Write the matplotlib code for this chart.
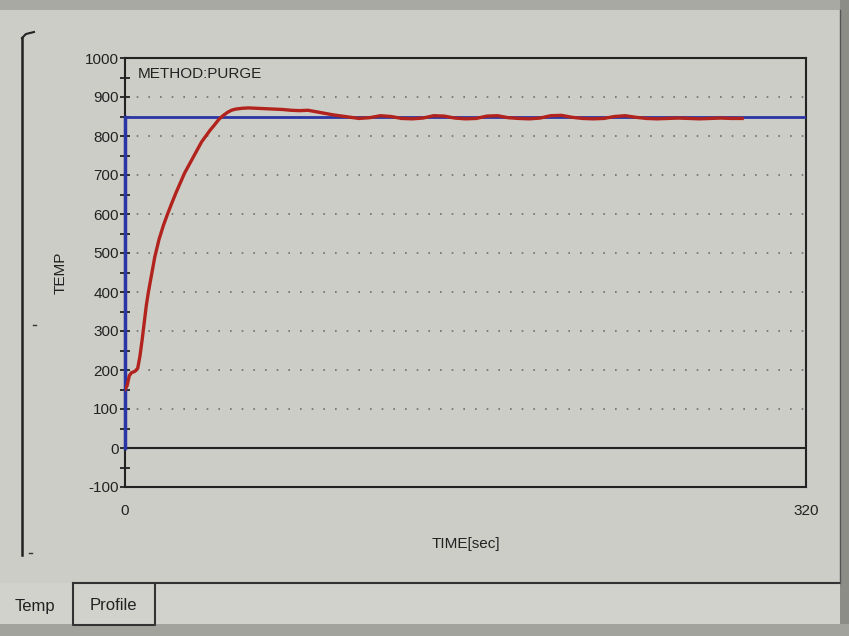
import matplotlib
matplotlib.use("Agg")
import matplotlib.pyplot as plt
from matplotlib.patches import Rectangle
from matplotlib.lines import Line2D

time_sec = [0, 1, 2, 3, 4, 5, 6, 7, 8, 9, 10, 11, 12, 13, 14, 16, 18, 20, 22,
            24, 26, 28, 30, 32, 34, 36, 38, 40, 42, 44, 46, 48, 50, 52, 55, 58,
            62, 66, 70, 74, 78, 82, 86, 90, 94, 98, 102, 106,
            110, 115, 120, 125, 130, 135, 140, 145, 150, 155, 160, 165, 170,
            175, 180, 185, 190, 195, 200, 205, 210, 215, 220, 225, 230, 235,
            240, 245, 250, 255, 260, 265, 270, 275, 280, 285, 290]
temp = [150, 160, 185, 193, 195, 198, 205, 235, 275, 320, 365, 400, 430, 460,
        490, 535, 570, 600, 628, 655, 680, 705, 725, 745, 765, 785, 800, 815,
        828, 842, 852, 860, 866, 869, 871, 872, 871, 870, 869, 868, 866, 865,
        866, 862, 858, 854, 851, 848,
        845, 847, 852, 850, 845, 844, 846, 852, 851, 846, 844, 845, 851, 852,
        847, 845, 844, 846, 852, 853, 848, 845, 844, 845, 850, 852, 848, 845,
        844, 845, 846, 845, 844, 845, 846, 845, 845]

setpoint = 850
x_range = [0, 320]
y_ticks = [-100, 0, 100, 200, 300, 400, 500, 600, 700, 800, 900, 1000]

W, H = 849, 636
bg = "#cdcdc8"
plt.rcParams["font.family"] = ["Liberation Sans", "DejaVu Sans"]
plt.rcParams["axes.unicode_minus"] = False
fig = plt.figure(figsize=(W / 100, H / 100), dpi=100, facecolor=bg)


def px(x0, y0, w, h):
    return [x0 / W, 1 - (y0 + h) / H, w / W, h / H]


# window chrome (photo of the instrument screen)
fig.patches.append(Rectangle((0, 1 - 10 / H), 1, 10 / H, transform=fig.transFigure,
                             facecolor="#a9a9a4", zorder=0))
fig.patches.append(Rectangle((840 / W, 0), 9 / W, 1, transform=fig.transFigure,
                             facecolor="#8d8d88", zorder=0))
fig.patches.append(Rectangle((0, 0), 1, 12 / H, transform=fig.transFigure,
                             facecolor="#a3a39e", zorder=0))
fig.patches.append(Rectangle((0, 12 / H), 840 / W, (636 - 583 - 12) / H,
                             transform=fig.transFigure, facecolor="#d2d2cd", zorder=0))


def fline(xs, ys, **kw):
    fig.add_artist(Line2D([x / W for x in xs], [1 - y / H for y in ys],
                          transform=fig.transFigure, **kw))


fline([22, 22], [38, 555], color="#222222", lw=1.8)
fline([22, 26, 34], [38, 34, 32], color="#222222", lw=1.5)
fline([33, 36], [325, 325], color="#333333", lw=1)
fline([29, 32], [553, 553], color="#333333", lw=1)
fline([73, 840], [583, 583], color="#333333", lw=1.5)
fline([73, 73, 155, 155], [583, 625, 625, 585], color="#333333", lw=1.5)
fline([840, 840], [10, 583], color="#555555", lw=1)
fig.text(35 / W, 1 - 606 / H, "Temp", ha="center", va="center", fontsize=12,
         color="#222222")
fig.text(113 / W, 1 - 605 / H, "Profile", ha="center", va="center", fontsize=12,
         color="#222222")

ax = fig.add_axes(px(125, 58, 681, 429))
ax.set_facecolor(bg)
ax.set_xlim(*x_range)
ax.set_ylim(-100, 1000)

for v in y_ticks[2:-1]:
    ax.axhline(v, color="#6e6e6e", lw=1.2, ls=(0, (1, 6)), zorder=1)
ax.axhline(0, color="#222222", lw=1.5, zorder=2)

ax.plot(x_range, [setpoint, setpoint], color="#2b36a6", lw=2, zorder=3)
ax.plot([0, 0], [0, setpoint], color="#2b36a6", lw=2.5, zorder=3, clip_on=False)
ax.plot(time_sec, temp, color="#b2231d", lw=2.4, zorder=4)

for s in ax.spines.values():
    s.set_color("#222222")
    s.set_linewidth(1.5)

ax.set_yticks(y_ticks)
ax.set_yticks(range(-50, 1000, 100), minor=True)
ax.tick_params(axis="y", which="both", direction="inout", length=7, width=1.3,
               color="#222222", labelsize=11, pad=1, labelcolor="#222222")
ax.set_xticks(x_range)
ax.set_xticklabels(["0", "320"])
ax.tick_params(axis="x", length=0, pad=12, labelsize=11, labelcolor="#222222")

ax.set_ylabel("TEMP", fontsize=11, color="#222222", labelpad=12)
ax.set_xlabel("TIME[sec]", fontsize=11, color="#222222", labelpad=14)
ax.text(6, 960, "METHOD:PURGE", fontsize=11, va="center", color="#222222")

fig.savefig("out.png", dpi=100, facecolor=bg)
